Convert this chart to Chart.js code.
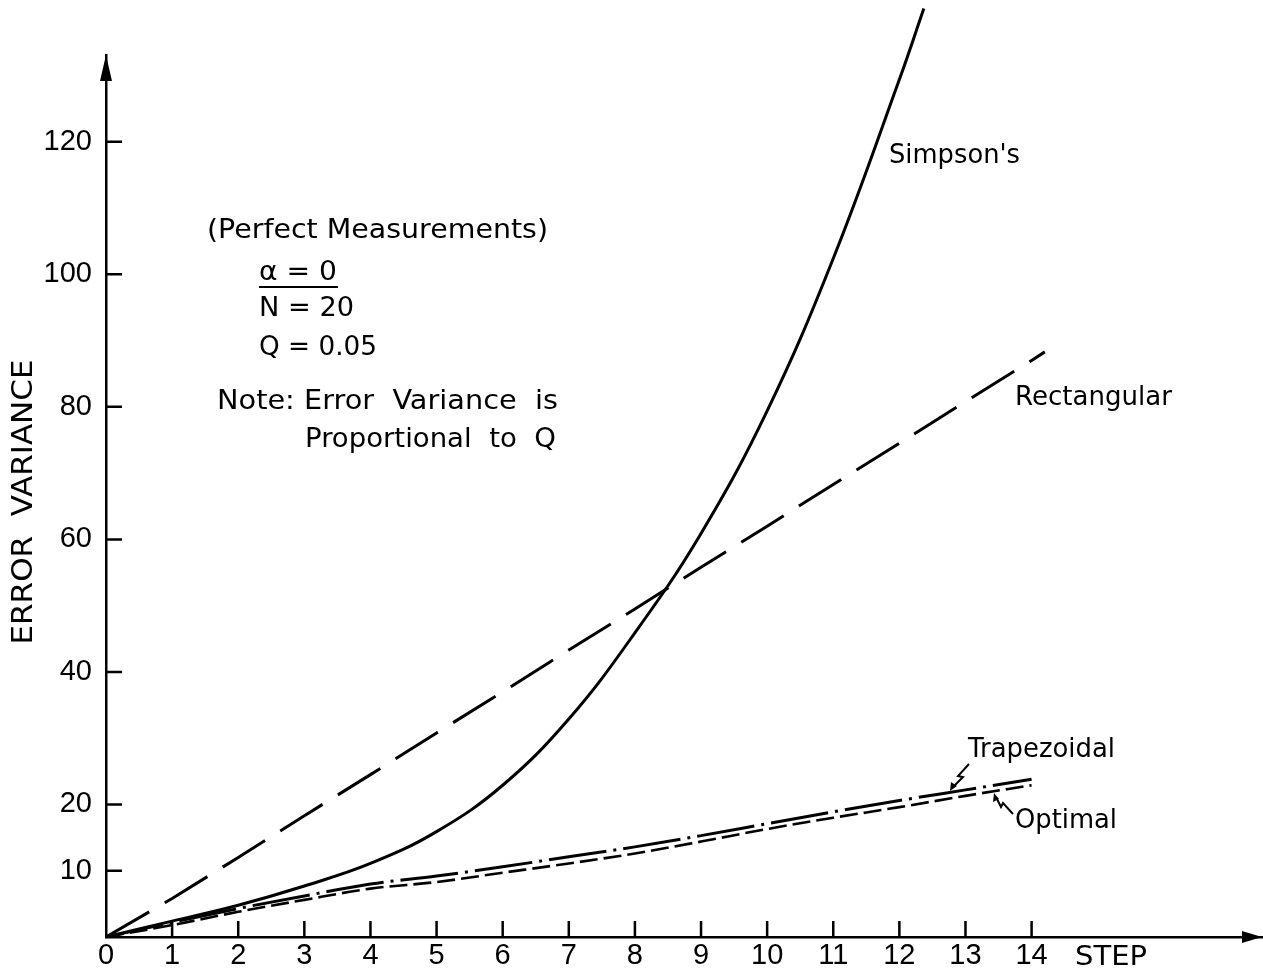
<!DOCTYPE html>
<html><head><meta charset="utf-8">
<script src="https://cdn.jsdelivr.net/npm/chart.js@4.4.0/dist/chart.umd.min.js"></script>
<style>html,body{margin:0;padding:0;background:#fff}#wrap{width:1263px;height:978px}</style>
</head><body><div id="wrap"><canvas id="c" width="1263" height="978"></canvas></div>
<script>
// ---- data ----
const xTickValues = [0,1,2,3,4,5,6,7,8,9,10,11,12,13,14];
const yTickValues = [10,20,40,60,80,100,120];
const simpsonSteps  = [0,1,2,3,4,5,6,7,8,9,10,11,12,12.37];
const simpsonValues = [0,2.4,4.8,7.7,11.1,15.9,22.9,32.9,45.9,60.9,79.4,102.4,129.4,140.1];
const rectSteps  = [0,1,2,3,4,5,6,7,8,9,10,11,12,13,14,14.2];
const rectValues = [0,5.8,12.0,18.3,24.5,30.8,37.0,43.3,49.5,55.8,62.0,68.3,74.5,80.8,87.0,88.3];
const trapSteps  = [0,1,2,3,4,5,6,7,8,9,10,11,12,13,14];
const trapValues = [0,2.2,4.3,6.2,8.0,9.2,10.6,12.1,13.6,15.3,17.1,18.9,20.6,22.2,23.8];
const optSteps   = [0,1,2,3,4,5,6,7,8,9,10,11,12,13,14];
const optValues  = [0,1.8,3.8,5.6,7.3,8.3,9.7,11.1,12.6,14.4,16.3,18.0,19.6,21.3,22.9];
const seriesNames = ["Simpson's","Rectangular","Trapezoidal","Optimal"];

const pts = (xs, ys) => xs.map((x,i)=>({x:x, y:ys[i]}));
const FONT = '"DejaVu Sans", "Liberation Sans", sans-serif';
const TICKFONT = '"Liberation Sans", "DejaVu Sans", sans-serif';

function fitText(ctx, str, x, capCenterY, w, size){
  ctx.font = size + 'px ' + FONT;
  const m = ctx.measureText(str).width;
  ctx.save();
  ctx.translate(x, capCenterY + 0.365*size);
  ctx.scale(w/m, 1);
  ctx.textAlign = 'left';
  ctx.textBaseline = 'alphabetic';
  ctx.fillStyle = '#000';
  ctx.fillText(str, 0, 0);
  ctx.restore();
}

const decor = {
  id: 'decor',
  afterDraw(chart){
    const ctx = chart.ctx, xs = chart.scales.x, ys = chart.scales.y;
    const x0 = xs.getPixelForValue(0), y0 = ys.getPixelForValue(0);
    ctx.save();
    ctx.strokeStyle = '#000'; ctx.fillStyle = '#000'; ctx.lineWidth = 2.5;
    // tick marks inside
    ctx.beginPath();
    yTickValues.forEach(v=>{const p=ys.getPixelForValue(v); ctx.moveTo(x0,p); ctx.lineTo(x0+16,p);});
    xTickValues.forEach(v=>{ if(v===0) return; const p=xs.getPixelForValue(v); ctx.moveTo(p,y0); ctx.lineTo(p,y0-16);});
    ctx.stroke();
    // arrowheads
    const top = chart.chartArea.top, right = chart.chartArea.right;
    ctx.beginPath(); ctx.moveTo(x0, top); ctx.lineTo(x0-6, top+26); ctx.lineTo(x0+6, top+26); ctx.closePath(); ctx.fill();
    ctx.beginPath(); ctx.moveTo(right-1, y0); ctx.lineTo(right-21, y0-6); ctx.lineTo(right-21, y0+6); ctx.closePath(); ctx.fill();
    // y title
    ctx.font = '29px ' + FONT;
    const t = 'ERROR  VARIANCE'; const m = ctx.measureText(t).width;
    ctx.save(); ctx.translate(21+0.365*29, 502); ctx.rotate(-Math.PI/2); ctx.scale(285/m,1);
    ctx.textAlign='center'; ctx.textBaseline='alphabetic'; ctx.fillText(t,0,0); ctx.restore();
    // x title
    fitText(ctx, 'STEP', 1075, 955, 72, 27);
    // note block
    fitText(ctx, '(Perfect Measurements)', 207, 228, 341, 27);
    fitText(ctx, '\u03b1 = 0', 259, 270, 78, 27);
    ctx.lineWidth = 1.8; ctx.beginPath(); ctx.moveTo(259,287); ctx.lineTo(338,287); ctx.stroke();
    fitText(ctx, 'N = 20', 259, 306, 95, 27);
    fitText(ctx, 'Q = 0.05', 259, 345, 118, 27);
    fitText(ctx, 'Note: Error  Variance  is', 217, 399, 341, 27);
    fitText(ctx, 'Proportional  to  Q', 305, 437, 251, 27);
    // series labels
    fitText(ctx, seriesNames[0], 889, 153, 131, 27);
    fitText(ctx, seriesNames[1], 1015, 395, 157, 27);
    fitText(ctx, seriesNames[2], 968, 747, 147, 27);
    fitText(ctx, seriesNames[3], 1015, 818, 102, 27);
    // leaders
    ctx.lineWidth = 2;
    ctx.beginPath(); ctx.moveTo(969,764); ctx.lineTo(958,776); ctx.lineTo(963,777); ctx.lineTo(953,787); ctx.stroke();
    ctx.beginPath(); ctx.moveTo(950,791); ctx.lineTo(951,782); ctx.lineTo(957,786); ctx.closePath(); ctx.fill();
    ctx.beginPath(); ctx.moveTo(1013,814); ctx.lineTo(1003,803); ctx.lineTo(1001,807); ctx.lineTo(996,797); ctx.stroke();
    ctx.beginPath(); ctx.moveTo(994,793); ctx.lineTo(993,802); ctx.lineTo(999,799); ctx.closePath(); ctx.fill();
    ctx.restore();
  }
};

const common = {borderColor:'#000', pointRadius:0, fill:false, borderCapStyle:'butt'};
new Chart(document.getElementById('c'), {
  type: 'line',
  data: {
    datasets: [
      Object.assign({label: seriesNames[0], data: pts(simpsonSteps, simpsonValues), borderWidth:3, tension:0.4, clip:false}, common),
      Object.assign({label: seriesNames[1], data: pts(rectSteps, rectValues), borderWidth:3, borderDash:[50,18], tension:0}, common),
      Object.assign({label: seriesNames[2], data: pts(trapSteps, trapValues), borderWidth:3, borderDash:[58,7,3,7], cubicInterpolationMode:'monotone'}, common),
      Object.assign({label: seriesNames[3], data: pts(optSteps, optValues), borderWidth:2.6, borderDash:[18,6], cubicInterpolationMode:'monotone'}, common)
    ]
  },
  options: {
    responsive: false, devicePixelRatio: 1, animation: false,
    layout: {padding: {top: 55, right: 0, left: 0, bottom: 0}},
    plugins: {legend: {display:false}, tooltip: {enabled:false}},
    scales: {
      x: {
        type: 'linear', min: 0, max: 17.5,
        afterFit(s){ s.height = 41; },
        afterBuildTicks(s){ s.ticks = xTickValues.map(v=>({value:v})); },
        grid: {display:false, drawTicks:false},
        border: {display:true, color:'#000', width:2.5},
        ticks: {color:'#000', font:{family:TICKFONT, size:29}, padding:2, maxRotation:0, autoSkip:false, callback:v=>String(v)}
      },
      y: {
        type: 'linear', min: 0, max: 133.1,
        afterFit(s){ s.width = 106; },
        afterBuildTicks(s){ s.ticks = yTickValues.map(v=>({value:v})); },
        grid: {display:false, drawTicks:false},
        border: {display:true, color:'#000', width:2.5},
        ticks: {color:'#000', font:{family:TICKFONT, size:29}, padding:14, autoSkip:false, callback:v=>String(v)}
      }
    }
  },
  plugins: [decor]
});
</script></body></html>
